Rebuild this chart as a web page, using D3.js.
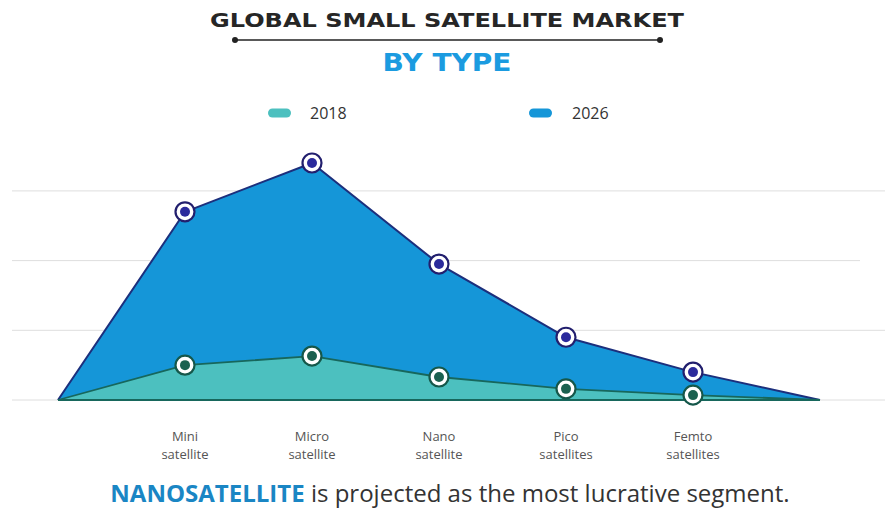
<!DOCTYPE html>
<html>
<head>
<meta charset="utf-8">
<script src="https://cdn.jsdelivr.net/npm/d3@7"></script>
<style>
  html, body { margin: 0; padding: 0; background: #ffffff; }
  svg { display: block; }
</style>
</head>
<body>
<svg id="chart" width="887" height="510"></svg>
<script>
// ---- data ----
const categories = ["Mini satellite", "Micro satellite", "Nano satellite", "Pico satellites", "Femto satellites"];
const labelLines = [["Mini", "satellite"], ["Micro", "satellite"], ["Nano", "satellite"], ["Pico", "satellites"], ["Femto", "satellites"]];
const values2018 = [0.50, 0.63, 0.33, 0.16, 0.07];
const values2026 = [2.70, 3.40, 1.95, 0.90, 0.40];
const seriesNames = ["2018", "2026"];
const gridTicks = [0, 1, 2, 3];

const svg = d3.select("#chart");

// scales: index -1 and categories.length are the baseline anchors
const x = d3.scaleLinear().domain([-1, categories.length]).range([58, 820]);
const y = d3.scaleLinear().domain([0, 4]).range([400, 121.2]);

// ---- title ----
svg.append("text")
  .attr("x", 447).attr("y", 27)
  .attr("text-anchor", "middle")
  .attr("font-family", "'DejaVu Sans', sans-serif")
  .attr("font-weight", "bold")
  .attr("font-size", 19.5)
  .attr("fill", "#262626")
  .attr("textLength", 474).attr("lengthAdjust", "spacingAndGlyphs")
  .text("GLOBAL SMALL SATELLITE MARKET");

svg.append("line").attr("x1", 235).attr("x2", 660).attr("y1", 40).attr("y2", 40)
  .attr("stroke", "#222").attr("stroke-width", 1.5);
[235, 660].forEach(cx => svg.append("circle").attr("cx", cx).attr("cy", 40).attr("r", 3).attr("fill", "#222"));

svg.append("text")
  .attr("x", 447).attr("y", 71)
  .attr("text-anchor", "middle")
  .attr("font-family", "'DejaVu Sans', sans-serif")
  .attr("font-weight", "bold")
  .attr("font-size", 25)
  .attr("fill", "#1b9be0")
  .attr("textLength", 129).attr("lengthAdjust", "spacingAndGlyphs")
  .text("BY TYPE");

// ---- legend ----
const legendColors = ["#4cc0bf", "#1596d8"];
const legendX = [268, 529];
const legendTextX = [310, 572];
seriesNames.forEach((name, i) => {
  svg.append("rect").attr("x", legendX[i]).attr("y", 108.5).attr("width", 23).attr("height", 9)
    .attr("rx", 4.5).attr("fill", legendColors[i]);
  svg.append("text").attr("x", legendTextX[i]).attr("y", 119)
    .attr("font-family", "'Open Sans', sans-serif").attr("font-size", 16)
    .attr("fill", "#333").text(name);
});

// ---- grid ----
svg.append("g").selectAll("line").data(gridTicks).join("line")
  .attr("x1", 12).attr("x2", d => d === 2 ? 860 : 885)
  .attr("y1", d => y(d)).attr("y2", d => y(d))
  .attr("stroke", "#dedede").attr("stroke-width", 1);

// ---- areas ----
function withAnchors(vals) {
  const pts = vals.map((v, i) => [i, v]);
  return [[-1, 0], ...pts, [categories.length, 0]];
}
const area = d3.area().x(d => x(d[0])).y0(y(0)).y1(d => y(d[1]));
const line = d3.line().x(d => x(d[0])).y(d => y(d[1]));

const d2026 = withAnchors(values2026);
const d2018 = withAnchors(values2018);

svg.append("path").datum(d2026).attr("d", area).attr("fill", "#1596d8");
svg.append("path").datum(d2026).attr("d", line).attr("fill", "none")
  .attr("stroke", "#1c2f7c").attr("stroke-width", 2).attr("stroke-linejoin", "round");

svg.append("path").datum(d2018).attr("d", area).attr("fill", "#4cc0bf");
svg.append("path").datum(d2018).attr("d", line).attr("fill", "none")
  .attr("stroke", "#17675c").attr("stroke-width", 1.8).attr("stroke-linejoin", "round");

svg.append("line").attr("x1", x(-1)).attr("x2", x(categories.length))
  .attr("y1", y(0)).attr("y2", y(0)).attr("stroke", "#17675c").attr("stroke-width", 2);

// ---- markers ----
function markers(vals, outer, inner) {
  const g = svg.append("g");
  g.selectAll("circle.o").data(vals).join("circle")
    .attr("cx", (d, i) => x(i)).attr("cy", d => y(d)).attr("r", 9.5)
    .attr("fill", "#ffffff").attr("stroke", outer).attr("stroke-width", 2.2);
  g.selectAll("circle.i").data(vals).join("circle")
    .attr("cx", (d, i) => x(i)).attr("cy", d => y(d)).attr("r", 5)
    .attr("fill", inner);
}
markers(values2026, "#221f6e", "#2b2a9c");
markers(values2018, "#15574a", "#1b6150");

// ---- category labels ----
const lg = svg.append("g");
labelLines.forEach((lines, i) => {
  lines.forEach((ln, j) => {
    lg.append("text").attr("text-anchor", "middle")
      .attr("font-family", "'Open Sans', sans-serif").attr("font-size", 13)
      .attr("fill", "#555")
      .attr("x", x(i)).attr("y", 441 + j * 18).text(ln);
  });
});

// ---- footer ----
const ft = svg.append("text").attr("x", 450).attr("y", 502).attr("text-anchor", "middle")
  .attr("font-family", "'Open Sans', sans-serif").attr("font-size", 21).attr("fill", "#333");
ft.append("tspan").attr("font-weight", "bold").attr("fill", "#1a86c4").text("NANOSATELLITE");
ft.append("tspan").text(" is projected as the most lucrative segment.");
const len = ft.node().getComputedTextLength();
if (len > 0) ft.attr("font-size", 21 * 680 / len);
</script>
</body>
</html>
